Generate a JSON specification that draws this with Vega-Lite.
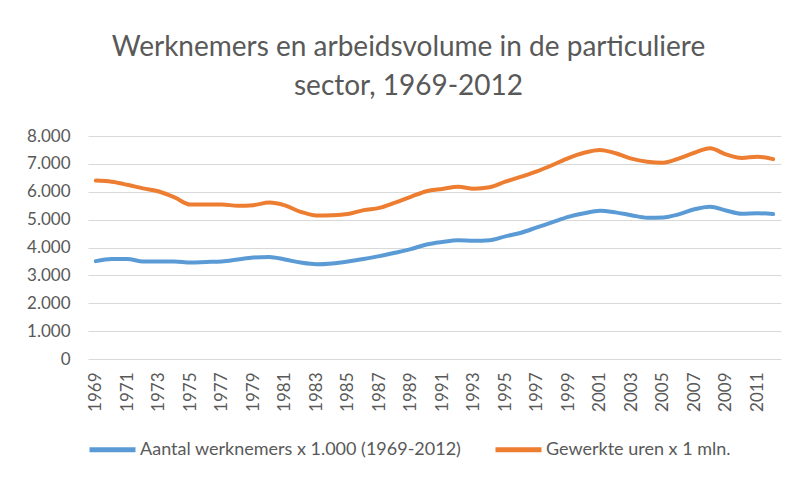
{
  "$schema": "https://vega.github.io/schema/vega-lite/v6.json",
  "autosize": {"type": "none"},
  "width": 693,
  "height": 223,
  "padding": {"left": 88, "top": 136, "right": 19, "bottom": 123},
  "background": "white",
  "config": {
    "view": {"stroke": null},
    "font": "Lato",
    "locale": {"number": {"decimal": ",", "thousands": ".", "grouping": [3], "currency": ["€", ""]}}
  },
  "title": {
    "text": ["Werknemers en arbeidsvolume in de particuliere", "sector, 1969-2012"],
    "font": "Lato",
    "fontSize": 28,
    "fontWeight": "normal",
    "color": "#595959",
    "anchor": "middle",
    "frame": "group",
    "dx": -26,
    "offset": -2,
    "baseline": "bottom",
    "lineHeight": 39
  },
  "data": {
    "values": [
      {"year": "1969", "werknemers": 3510, "uren": 6400},
      {"year": "1970", "werknemers": 3590, "uren": 6360},
      {"year": "1971", "werknemers": 3590, "uren": 6250},
      {"year": "1972", "werknemers": 3500, "uren": 6120},
      {"year": "1973", "werknemers": 3500, "uren": 6010},
      {"year": "1974", "werknemers": 3500, "uren": 5800},
      {"year": "1975", "werknemers": 3460, "uren": 5540},
      {"year": "1976", "werknemers": 3480, "uren": 5540},
      {"year": "1977", "werknemers": 3500, "uren": 5540},
      {"year": "1978", "werknemers": 3570, "uren": 5500},
      {"year": "1979", "werknemers": 3640, "uren": 5520},
      {"year": "1980", "werknemers": 3660, "uren": 5610},
      {"year": "1981", "werknemers": 3570, "uren": 5510},
      {"year": "1982", "werknemers": 3460, "uren": 5280},
      {"year": "1983", "werknemers": 3400, "uren": 5150},
      {"year": "1984", "werknemers": 3430, "uren": 5160},
      {"year": "1985", "werknemers": 3500, "uren": 5200},
      {"year": "1986", "werknemers": 3590, "uren": 5340},
      {"year": "1987", "werknemers": 3690, "uren": 5420},
      {"year": "1988", "werknemers": 3810, "uren": 5610},
      {"year": "1989", "werknemers": 3940, "uren": 5820},
      {"year": "1990", "werknemers": 4110, "uren": 6020},
      {"year": "1991", "werknemers": 4200, "uren": 6100},
      {"year": "1992", "werknemers": 4260, "uren": 6180},
      {"year": "1993", "werknemers": 4240, "uren": 6110},
      {"year": "1994", "werknemers": 4260, "uren": 6160},
      {"year": "1995", "werknemers": 4400, "uren": 6360},
      {"year": "1996", "werknemers": 4530, "uren": 6540},
      {"year": "1997", "werknemers": 4720, "uren": 6730},
      {"year": "1998", "werknemers": 4910, "uren": 6960},
      {"year": "1999", "werknemers": 5100, "uren": 7210},
      {"year": "2000", "werknemers": 5230, "uren": 7400},
      {"year": "2001", "werknemers": 5320, "uren": 7500},
      {"year": "2002", "werknemers": 5260, "uren": 7380},
      {"year": "2003", "werknemers": 5160, "uren": 7190},
      {"year": "2004", "werknemers": 5070, "uren": 7080},
      {"year": "2005", "werknemers": 5080, "uren": 7040},
      {"year": "2006", "werknemers": 5190, "uren": 7190},
      {"year": "2007", "werknemers": 5370, "uren": 7400},
      {"year": "2008", "werknemers": 5460, "uren": 7560},
      {"year": "2009", "werknemers": 5330, "uren": 7340},
      {"year": "2010", "werknemers": 5210, "uren": 7210},
      {"year": "2011", "werknemers": 5230, "uren": 7260},
      {"year": "2012", "werknemers": 5200, "uren": 7170}
    ]
  },
  "transform": [{"fold": ["werknemers", "uren"], "as": ["series", "value"]}],
  "mark": {"type": "line", "strokeWidth": 4, "interpolate": "monotone", "strokeCap": "round", "strokeJoin": "round"},
  "encoding": {
    "x": {
      "field": "year",
      "type": "ordinal",
      "scale": {"type": "point", "padding": 0.5},
      "axis": {
        "title": null,
        "labelAngle": 270,
        "labelExpr": "toNumber(datum.value) % 2 == 1 ? datum.label : ''",
        "labelOverlap": false,
        "labelFontSize": 17,
        "labelColor": "#595959",
        "labelFont": "Lato",
        "labelPadding": 13,
        "ticks": false,
        "domain": false,
        "grid": false
      }
    },
    "y": {
      "field": "value",
      "type": "quantitative",
      "scale": {"domain": [0, 8000], "nice": false},
      "axis": {
        "title": null,
        "values": [0, 1000, 2000, 3000, 4000, 5000, 6000, 7000, 8000],
        "format": ",d",
        "labelFontSize": 17,
        "labelColor": "#595959",
        "labelFont": "Lato",
        "labelPadding": 18,
        "ticks": false,
        "domain": false,
        "grid": true,
        "gridColor": "#d9d9d9",
        "gridWidth": 1
      }
    },
    "color": {
      "field": "series",
      "type": "nominal",
      "scale": {"domain": ["werknemers", "uren"], "range": ["#5B9BD5", "#ED7D31"]},
      "legend": {
        "title": null,
        "orient": "none",
        "direction": "horizontal",
        "legendX": -1,
        "legendY": 288,
        "symbolType": "stroke",
        "symbolSize": 2116,
        "symbolStrokeWidth": 5,
        "labelFontSize": 18,
        "labelColor": "#595959",
        "labelFont": "Lato",
        "labelOffset": 2,
        "columnPadding": 23,
        "labelLimit": 500,
        "labelExpr": "datum.value == 'werknemers' ? 'Aantal werknemers x 1.000 (1969-2012)' : 'Gewerkte uren x 1 mln.'"
      }
    }
  }
}
